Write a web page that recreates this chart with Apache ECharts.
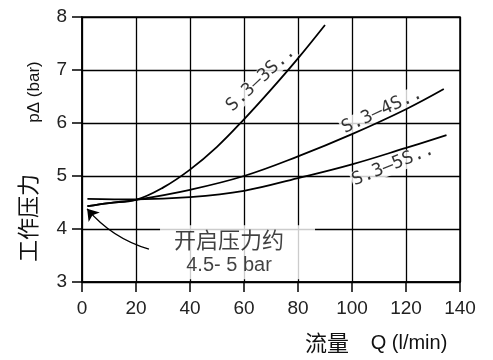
<!DOCTYPE html>
<html>
<head>
<meta charset="utf-8">
<script src="https://cdn.jsdelivr.net/npm/echarts@6/dist/echarts.min.js"></script>
<style>html,body{margin:0;padding:0;background:#fff}#c{width:493px;height:360px}</style>
</head>
<body>
<div id="c"></div>
<script>
// ---- data ----
var xTicks = [0, 20, 40, 60, 80, 100, 120, 140];
var yTicks = [3, 4, 5, 6, 7, 8];

var flow3S = [2, 10, 20, 30, 40, 50, 60, 70, 80, 90];
var dp3S   = [4.43, 4.49, 4.55, 4.78, 5.12, 5.55, 6.07, 6.63, 7.22, 7.85];

var flow4S = [2, 10, 20, 40, 60, 80, 100, 120, 134];
var dp4S   = [4.43, 4.49, 4.55, 4.74, 5.00, 5.37, 5.79, 6.26, 6.64];

var flow5S = [2, 20, 40, 60, 80, 100, 120, 135];
var dp5S   = [4.57, 4.56, 4.60, 4.72, 4.96, 5.22, 5.53, 5.77];

var curveNames  = ['S.3–3S..', 'S.3–4S..', 'S.3–5S..'];
var curveLabelX = [66.2, 111.1, 115.2];
var curveLabelY = [6.83, 6.23, 5.21];
var curveLabelRot = [43, 25, 22];

var noteLine1 = '开启压力约';
var noteLine2 = '4.5- 5 bar';
var notePos = [57.6, 3.56];
var arrowFrom = [24.8, 3.62];
var arrowTo = [1.9, 4.38];

function pairs(xs, ys) { return xs.map(function (x, i) { return [x, ys[i]]; }); }

var chart = echarts.init(document.getElementById('c'), null, {renderer: 'canvas'});
var tickFont = 'Liberation Sans, Arial, sans-serif';
var cjkFont = 'Noto Sans CJK SC, sans-serif';

var curveStyle = {color: '#000', width: 1.8};

var option = {
  animation: false,
  backgroundColor: '#fff',
  grid: {left: 82, right: 33, top: 17, bottom: 78, show: true, borderColor: '#000', borderWidth: 1.5},
  xAxis: {
    type: 'value', min: 0, max: 140, interval: 20,
    axisLine: {show: true, lineStyle: {color: '#000', width: 1.5}},
    axisTick: {show: true, length: 10, lineStyle: {color: '#000', width: 1.5}},
    axisLabel: {color: '#222', fontSize: 19, fontFamily: tickFont, margin: 17,
      formatter: function (v) { return xTicks.indexOf(v) >= 0 ? String(v) : ''; }},
    splitLine: {show: true, lineStyle: {color: '#000', width: 1.3}}
  },
  yAxis: {
    type: 'value', min: 3, max: 8, interval: 1,
    axisLine: {show: true, lineStyle: {color: '#000', width: 1.5}},
    axisTick: {show: true, length: 10, lineStyle: {color: '#000', width: 1.5}},
    axisLabel: {color: '#222', fontSize: 19, fontFamily: tickFont, margin: 15,
      formatter: function (v) { return yTicks.indexOf(v) >= 0 ? String(v) : ''; }},
    splitLine: {show: true, lineStyle: {color: '#000', width: 1.3}}
  },
  graphic: [
    {type: 'text', x: 34, y: 92, rotation: Math.PI / 2,
      style: {text: 'pΔ (bar)', font: '17px ' + tickFont, fill: '#111', align: 'center', verticalAlign: 'middle'}},
    {type: 'text', x: 28, y: 218, rotation: Math.PI / 2,
      style: {text: '工作压力', font: '22px ' + cjkFont, fill: '#111', align: 'center', verticalAlign: 'middle'}},
    {type: 'text', x: 327, y: 343,
      style: {text: '流量', font: '22px ' + cjkFont, fill: '#111', align: 'center', verticalAlign: 'middle'}},
    {type: 'text', x: 409, y: 343,
      style: {text: 'Q (l/min)', font: '20px ' + tickFont, fill: '#111', align: 'center', verticalAlign: 'middle'}}
  ],
  series: [
    {type: 'line', data: pairs(flow3S, dp3S), smooth: 0.4, showSymbol: false, lineStyle: curveStyle, z: 3},
    {type: 'line', data: pairs(flow4S, dp4S), smooth: 0.4, showSymbol: false, lineStyle: curveStyle, z: 3},
    {type: 'line', data: pairs(flow5S, dp5S), smooth: 0.4, showSymbol: false, lineStyle: curveStyle, z: 3},
    {
      type: 'scatter', z: 1, symbolSize: 0, silent: true,
      data: curveNames.map(function (n, i) {
        return {value: [curveLabelX[i], curveLabelY[i]], name: n,
          label: {show: true, position: 'inside', formatter: n, rotate: curveLabelRot[i],
            color: '#000', fontSize: 18, fontFamily: 'DejaVu Sans Mono, Liberation Mono, monospace',
            backgroundColor: '#fff', padding: [0, 1]}};
      })
    },
    {
      type: 'scatter', z: 1, symbolSize: 0, silent: true,
      data: [{value: notePos, label: {show: true, position: 'inside',
        formatter: '{a|' + noteLine1 + '}\n{b|' + noteLine2 + '}',
        backgroundColor: '#fff', width: 138, height: 54, padding: [0, 17, 0, 0],
        align: 'center', verticalAlign: 'middle',
        rich: {
          a: {fontSize: 22, fontFamily: cjkFont, color: '#111', lineHeight: 28, align: 'center'},
          b: {fontSize: 20, fontFamily: tickFont, color: '#111', lineHeight: 25, align: 'center'}
        }}}]
    },
    {
      type: 'lines', coordinateSystem: 'cartesian2d', z: 3, silent: true,
      symbol: ['none', 'arrow'], symbolSize: 11,
      lineStyle: {color: '#000', width: 1.5, curveness: 0.15, opacity: 1},
      data: [{coords: [arrowFrom, arrowTo]}]
    }
  ]
};
chart.setOption(option);
</script>
</body>
</html>
